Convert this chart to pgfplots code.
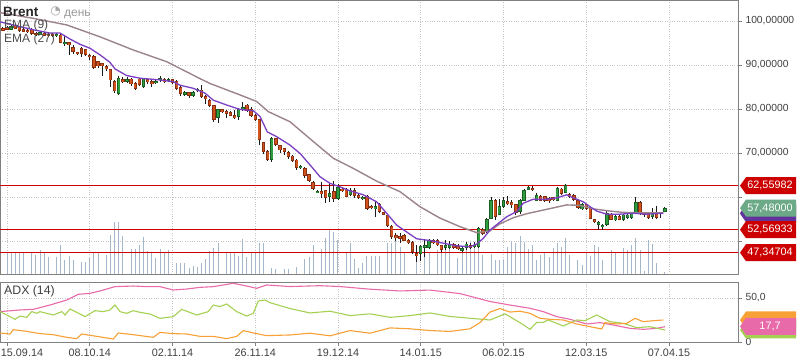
\documentclass[border=0pt]{standalone}
\usepackage{pgfplots}
\pgfplotsset{compat=1.18}
\usepackage{pgfplotstable}
\usepackage{fontspec}
\setmainfont{Liberation Sans}
\newfontfamily\symfont{DejaVu Sans}

\definecolor{framegray}{HTML}{808080}
\definecolor{gridgray}{HTML}{C4C4C4}
\definecolor{ticktext}{HTML}{404040}
\definecolor{downfill}{HTML}{D0541E}
\definecolor{downedge}{HTML}{8A2E10}
\definecolor{upfill}{HTML}{2E9E3E}
\definecolor{upedge}{HTML}{1B5E24}
\definecolor{wickc}{HTML}{1A1A1A}
\definecolor{volc}{HTML}{A5B8CA}
\definecolor{emaA}{HTML}{7B3FC4}
\definecolor{emaB}{HTML}{9C848C}
\definecolor{hred}{HTML}{D00000}
\definecolor{lblred}{HTML}{CC0000}
\definecolor{lblgreen}{HTML}{6BA987}
\definecolor{adxpink}{HTML}{E86AA8}
\definecolor{adxgreen}{HTML}{A6D052}
\definecolor{adxorange}{HTML}{F7A035}

\pgfplotsset{cdl/.style 2 args={draw=none, mark=none, forget plot,
  error bars/.cd, y dir=both, y explicit, error mark=none,
  error bar style={draw=#1, line width=#2}}}

\pgfplotstableread{
i o h l c
-1 98.3 98.6 97.7 97.95
0 98.5 98.8 97.9 98.1
2 98.9 99.3 98.1 98.4
3 98.6 98.9 97.6 97.9
4 98.0 98.3 97.4 97.7
5 97.9 98.3 97.2 97.6
6 98.0 98.3 96.9 97.2
7 97.2 97.5 96.6 96.9
9 97.2 97.5 96.5 96.8
10 97.0 97.3 96.4 96.7
11 97.0 97.3 96.3 96.6
13 96.8 97.1 95.0 95.2
15 95.0 95.3 92.3 94.6
16 94.0 94.5 92.5 93.0
17 92.8 93.0 92.3 92.55
18 93.8 94.0 91.9 92.7
19 93.4 93.7 92.1 92.5
20 92.2 92.5 91.1 91.9
21 92.0 92.3 89.1 89.4
22 90.8 91.0 89.4 89.8
23 90.3 90.5 87.4 89.8
24 89.6 89.9 88.7 89.1
25 88.9 89.2 85.1 86.6
26 86.2 86.5 83.6 84.1
28 86.6 87.3 85.8 86.2
30 86.8 87.1 85.3 85.7
31 85.8 86.1 84.3 84.7
32 86.8 87.1 85.2 85.5
34 86.6 86.9 85.7 86.2
35 86.2 86.5 85.0 85.7
38 86.7 87.0 85.9 86.2
40 86.6 86.9 85.7 86.0
41 86.2 86.5 84.3 84.7
42 84.9 85.4 83.0 83.6
44 83.7 83.9 82.4 83.1
47 84.3 85.4 82.5 82.8
48 82.8 83.1 81.2 82.3
49 81.9 82.2 80.5 80.8
50 80.7 80.9 77.1 77.6
52 79.8 80.1 79.1 79.4
53 79.5 79.8 78.0 79.0
54 79.2 79.5 78.3 78.6
55 78.4 79.7 77.7 78.0
58 80.9 81.2 79.3 79.6
59 79.8 80.4 78.2 78.5
60 78.5 78.8 77.2 77.7
61 77.5 77.8 71.9 73.1
62 72.3 72.6 69.8 70.3
63 70.3 70.6 68.1 68.6
65 73.2 73.5 71.7 72.0
66 71.6 71.9 70.0 70.7
67 70.9 71.1 69.6 70.3
68 70.1 70.4 68.6 69.3
69 69.3 69.6 68.0 68.4
70 68.4 68.7 66.2 66.7
72 66.5 66.8 64.4 64.9
73 65.0 65.3 63.3 63.7
74 63.3 63.6 61.5 62.0
76 61.2 63.3 59.7 60.8
77 61.4 61.7 58.6 59.9
79 61.2 63.6 58.9 59.7
81 61.8 62.3 61.1 61.5
82 61.7 62.0 59.9 60.2
84 61.4 62.0 59.8 60.4
85 60.4 60.7 59.5 59.9
87 60.2 60.5 57.0 57.4
88 57.9 58.2 57.2 57.7
90 58.4 58.7 56.4 56.8
91 56.4 56.7 55.8 56.1
92 55.9 56.2 53.1 53.5
93 53.3 53.6 50.5 51.0
94 51.2 51.8 49.9 50.8
95 51.1 51.9 49.6 50.6
96 51.2 51.6 49.9 50.2
97 50.1 50.4 49.3 49.6
98 49.6 49.9 47.1 47.6
99 47.2 49.1 45.3 46.6
103 50.1 50.4 49.3 49.6
104 50.1 50.4 48.8 49.1
105 48.9 49.2 47.6 48.1
108 49.1 49.5 48.2 48.6
109 48.7 49.3 47.9 48.3
112 48.9 49.5 48.2 48.6
115 52.6 52.9 51.3 51.7
118 59.2 59.5 54.7 55.5
121 58.9 60.2 58.1 58.5
122 58.8 59.4 57.4 58.2
123 58.2 58.5 55.8 56.4
127 62.0 62.4 61.3 61.6
129 60.1 60.4 59.0 59.3
130 60.0 60.3 58.9 59.3
131 59.7 60.0 58.7 59.1
132 59.8 60.1 59.2 59.5
134 61.8 62.1 60.5 60.8
136 60.5 60.8 59.8 60.1
137 60.3 60.6 59.2 59.5
138 59.1 59.4 57.2 57.6
140 58.2 58.5 57.1 57.4
141 57.4 57.7 54.9 55.2
142 54.8 55.1 54.2 54.5
146 56.1 56.4 54.7 55.0
148 55.5 55.8 54.7 55.0
153 58.8 59.1 56.0 56.3
154 56.4 56.7 55.5 56.1
155 56.3 56.6 54.9 55.3
157 56.5 58.0 55.1 55.4
158 56.4 56.7 55.2 56.2
}\downc

\pgfplotstableread{
i o h l c
1 98.1 99.1 97.9 98.8
8 97.0 97.6 96.8 97.3
12 96.7 97.3 96.4 96.9
14 94.9 96.5 94.3 95.1
27 83.6 87.4 83.1 87.0
29 86.3 87.2 85.9 86.7
33 85.1 87.1 84.8 86.8
36 86.0 86.5 85.7 86.2
37 86.6 87.5 86.2 86.9
39 86.4 87.0 86.1 86.6
43 83.4 84.1 82.9 83.8
45 83.0 84.2 82.7 83.7
46 84.1 84.7 83.9 84.4
51 78.0 80.1 76.9 79.8
56 78.3 80.2 77.6 79.8
57 80.0 81.5 79.6 80.4
64 68.6 73.6 67.9 73.3
71 66.6 67.2 66.3 66.9
75 61.0 61.6 60.8 61.3
78 60.1 63.1 58.9 60.7
80 59.7 63.0 59.3 62.2
83 60.6 62.1 60.2 61.4
86 59.7 60.3 59.4 59.9
89 57.4 58.8 55.5 57.8
100 47.2 49.1 45.5 48.7
101 48.6 50.3 46.4 49.0
102 48.5 50.4 48.2 50.1
106 48.6 50.2 47.9 48.9
107 48.6 50.1 48.1 49.1
110 47.9 48.7 47.6 48.3
111 48.6 49.8 48.0 49.3
113 48.7 49.8 48.3 49.0
114 48.7 53.2 48.4 52.9
116 52.1 55.2 51.8 54.9
117 55.2 60.1 54.9 59.2
119 56.1 59.5 55.8 57.9
120 57.9 59.9 57.5 59.1
124 56.7 59.5 56.2 59.2
125 59.3 61.8 59.0 61.4
126 61.8 62.6 61.5 62.2
128 59.3 60.8 59.0 60.3
133 59.3 62.3 59.0 62.0
135 61.1 63.0 60.8 62.5
139 57.3 58.6 57.0 58.2
143 53.8 54.5 52.6 54.2
144 53.3 53.9 52.5 53.6
145 53.8 56.9 53.5 56.3
147 54.8 55.8 54.5 55.5
149 55.0 56.2 54.6 55.9
150 55.4 56.3 55.1 55.9
151 55.4 56.6 55.1 56.3
152 56.5 59.9 56.2 58.8
156 55.5 57.6 55.1 56.3
159 56.8 57.8 56.5 57.4
}\upc

\pgfplotstableread{
i v
0 22
1 22
2 22
3 21
4 21
6 21
7 19
8 24
9 22
10 17
12 17
13 29
14 14
15 18
16 14
18 12
19 12
20 16
21 21
22 22
24 19
25 39
26 52
27 52
28 38
30 25
31 25
32 29
33 37
34 23
35 21
36 16
37 25
38 22
39 24
41 11
42 11
43 11
44 6
45 8
46 7
47 11
48 15
49 23
50 26
51 31
53 21
54 21
55 21
56 18
57 35
58 17
59 21
60 22
61 31
62 31
64 6
65 5
67 5
68 5
70 7
72 15
73 17
74 29
76 25
77 36
78 44
79 42
80 34
82 21
83 31
84 15
85 6
86 11
87 18
88 18
89 18
90 18
92 31
93 31
94 36
95 27
96 22
99 19
101 25
102 22
104 24
105 27
106 27
107 27
109 16
110 24
111 27
112 32
113 27
114 29
115 19
117 20
118 14
119 14
120 14
121 27
122 32
123 31
124 38
125 32
126 25
127 29
128 14
129 19
130 22
131 17
132 26
133 31
134 27
135 36
136 19
138 14
139 9
140 21
141 18
142 29
143 27
144 14
146 24
147 22
149 26
150 24
151 29
152 36
153 24
154 3
155 34
156 30
157 11
159 2
}\vol

\begin{document}
\begin{tikzpicture}[x=1pt,y=1pt]
\useasboundingbox (0,0) rectangle (798,363);
\fill[white] (0,0) rectangle (798,363);

% ---------------- main price panel ----------------
\begin{axis}[
  at={(0pt,89pt)}, anchor=south west,
  scale only axis, width=738pt, height=274pt,
  xmin=-1.692, xmax=176.68, ymin=42.5, ymax=104.77,
  axis line style={draw=framegray, line width=0.8pt},
  xtick={0,20,...,160}, xticklabels={},
  xtick pos=bottom, x tick style={draw=none},
  ytick={50,60,70,80,90,100},
  yticklabels={{},{},{70,00000},{80,00000},{90,00000},{100,00000}},
  ytick pos=right, yticklabel pos=right,
  tick align=outside, major tick length=4pt,
  y tick style={draw=framegray, line width=0.8pt},
  yticklabel style={font=\fontsize{10.3}{12}\selectfont, text=ticktext},
  grid=major, grid style={gridgray, dotted, line width=0.7pt},
  clip=true,
]
% volume
\addplot[ycomb, volc, line width=1pt, mark=none, forget plot]
  table[x=i, y expr={42.5+\thisrow{v}/4.4}] {\vol};
% horizontal levels
\addplot[draw=hred, line width=1.1pt, mark=none, forget plot] coordinates {(-2,62.55982) (177,62.55982)};
\addplot[draw=hred, line width=1.1pt, mark=none, forget plot] coordinates {(-2,52.56933) (177,52.56933)};
\addplot[draw=hred, line width=1.1pt, mark=none, forget plot] coordinates {(-2,47.34704) (177,47.34704)};
% wicks
\addplot[cdl={wickc}{0.9pt}]
  table[x=i, y expr={(\thisrow{h}+\thisrow{l})/2}, y error expr={(\thisrow{h}-\thisrow{l})/2}] {\downc};
\addplot[cdl={wickc}{0.9pt}]
  table[x=i, y expr={(\thisrow{h}+\thisrow{l})/2}, y error expr={(\thisrow{h}-\thisrow{l})/2}] {\upc};
% bodies: edge
\addplot[cdl={downedge}{3.4pt}]
  table[x=i, y expr={(\thisrow{o}+\thisrow{c})/2}, y error expr={abs(\thisrow{o}-\thisrow{c})/2+0.12}] {\downc};
\addplot[cdl={upedge}{3.4pt}]
  table[x=i, y expr={(\thisrow{o}+\thisrow{c})/2}, y error expr={abs(\thisrow{o}-\thisrow{c})/2+0.12}] {\upc};
% bodies: fill
\addplot[cdl={downfill}{1.9pt}]
  table[x=i, y expr={(\thisrow{o}+\thisrow{c})/2}, y error expr={abs(\thisrow{o}-\thisrow{c})/2-0.08}] {\downc};
\addplot[cdl={upfill}{1.9pt}]
  table[x=i, y expr={(\thisrow{o}+\thisrow{c})/2}, y error expr={abs(\thisrow{o}-\thisrow{c})/2-0.08}] {\upc};
% EMA 27
\addplot[emaB, line width=1.4pt, mark=none] coordinates {
(-1.69,101.9) (6.36,100.6) (14.43,99.1) (22.48,96.4) (30.53,93.4) (38.60,90.75)
(46.65,86.9) (49.06,85.8) (56.31,83.2) (60.35,81.7) (63.15,79.4) (68.40,77.1)
(74.03,72.6) (78.87,68.8) (83.70,66.5) (89.35,63.6) (95.0,61.2) (99.8,57.8)
(104.65,55.2) (109.49,53.25) (113.52,51.9) (116.74,52.3) (119.15,53.9) (122.37,55.3)
(125.61,56.2) (130.44,57.2) (135.28,58.2) (138.49,58.1) (141.70,57.3) (145.74,56.8)
(148.95,56.5) (152.99,56.4) (158.62,56.4)};
% EMA 9
\addplot[emaA, line width=1.3pt, mark=none] coordinates {
(-1.69,99.8) (6.36,98.0) (10.39,97.25) (12.81,97.25) (15.23,95.9) (17.64,94.7)
(20.06,93.8) (22.48,92.3) (24.89,90.6) (26.10,89.1) (28.93,87.6) (32.15,87.0)
(36.98,86.6) (40.19,86.2) (41.81,85.4) (45.03,84.7) (47.85,83.6) (49.86,82.0)
(53.10,80.9) (56.31,79.9) (59.53,79.6) (61.15,78.3) (62.91,74.8) (65.18,73.7)
(68.40,71.8) (70.82,69.9) (73.23,67.3) (75.65,64.6) (78.07,63.1) (80.48,62.3)
(82.90,61.4) (86.12,60.5) (89.35,58.9) (91.77,56.3) (94.19,53.6) (96.99,51.8)
(99.02,50.5) (102.24,50.1) (105.45,49.5) (108.69,48.9) (111.90,48.7) (113.52,49.3)
(115.12,50.6) (116.74,52.5) (119.15,54.3) (120.77,55.5) (123.19,56.7) (124.79,58.6)
(127.20,59.5) (130.44,59.5) (132.86,59.8) (135.28,60.5) (136.87,59.8) (139.29,58.9)
(140.91,57.8) (142.53,56.8) (144.94,56.1) (148.16,56.1) (151.37,56.3) (154.61,56.1)
(158.62,56.3)};
\end{axis}

% ---------------- ADX panel ----------------
\begin{axis}[
  at={(0pt,21pt)}, anchor=south west,
  scale only axis, width=738pt, height=60pt,
  xmin=-1.692, xmax=176.68, ymin=0, ymax=68.18,
  axis line style={draw=framegray, line width=0.8pt},
  xtick={0,20,...,160}, xticklabels={},
  xtick pos=bottom,
  ytick={0,50}, yticklabels={0,{50,0}},
  ytick pos=right, yticklabel pos=right,
  tick align=outside, major tick length=4pt,
  tick style={draw=framegray, line width=0.8pt},
  yticklabel style={font=\fontsize{10.3}{12}\selectfont, text=ticktext},
  grid=major, grid style={gridgray, dotted, line width=0.7pt},
  clip=true,
]
\addplot[adxpink, line width=1.1pt, mark=none] coordinates {
(-1.69,34.5) (3.14,36.4) (6.36,37.1) (10.39,42) (14.43,47.7) (17.23,54.2) (20.06,55.3)
(22.48,58) (26.10,62.9) (30.53,63.6) (33.76,62.9) (36.98,62.9) (40.19,59.1) (43.43,60.2)
(46.65,62.1) (49.86,62.9) (54.70,66.7) (57.93,63.6) (60.35,61) (62.77,64.8) (68.40,63)
(75.65,64) (80.48,63) (87.73,60) (95.0,58) (102.24,59) (109.49,55) (116.74,46)
(121.57,42) (126.40,38.3) (129.62,34.5) (132.86,28.8) (136.08,25.8) (140.11,20.5)
(143.32,22) (146.54,19.3) (150.57,15.5) (153.79,14.4) (157.03,15.5) (159.03,17.4)};
\addplot[adxgreen, line width=1.1pt, mark=none] coordinates {
(-1.69,34.5) (-0.07,30.7) (1.93,25.8) (3.14,29.5) (4.76,28) (5.97,34.5) (7.18,32.6)
(7.98,34.5) (11.19,30.7) (13.22,34.5) (14.02,30.7) (15.23,37.5) (16.85,33.7) (18.85,28.8)
(21.27,35.6) (23.27,34.5) (24.89,36.4) (26.10,42) (27.31,34.5) (28.93,32.6) (30.53,35.6)
(32.15,33.7) (34.56,31.8) (36.98,26.9) (40.19,28.8) (42.22,37.1) (45.85,30.7) (48.65,34.5)
(49.86,42) (51.48,40.2) (53.10,43.2) (55.52,34.5) (57.93,29.5) (59.53,32.6) (60.74,46.6)
(62.36,47.7) (63.56,44.7) (68.40,38) (73.23,33) (78.07,35) (82.90,30) (87.73,32)
(92.57,28) (97.40,30) (102.24,33) (107.07,29) (111.90,27) (116.74,25) (120.36,32)
(123.99,22) (126.40,14.4) (128.02,22.3) (129.62,22.3) (130.83,25) (134.45,18.2)
(137.69,25) (139.69,24.2) (142.53,30.7) (145.74,23.1) (148.95,21.2) (152.19,16.3)
(155.41,17.4) (159.03,13.6)};
\addplot[adxorange, line width=1.1pt, mark=none] coordinates {
(-1.69,10.2) (0.73,9.1) (1.52,14) (4.76,12.1) (7.98,9.5) (11.19,8.3) (14.43,5.3)
(16.85,3.8) (18.05,9.1) (21.68,6.4) (25.69,3.4) (26.90,10.2) (30.53,8.3) (35.36,5.3)
(36.98,10.9) (40.19,9.5) (43.43,9.1) (46.65,6.4) (49.86,6.4) (53.10,3.8) (55.52,6.4)
(57.11,12.9) (60.35,9.5) (62.77,7.2) (68.40,8) (73.23,10) (78.07,7) (82.90,13)
(87.73,10) (92.57,16) (97.40,15) (102.24,13) (107.07,12) (111.90,15) (114.32,22)
(116.74,34) (119.15,38) (121.57,34) (123.99,35) (126.40,32.6) (128.82,26.9) (131.24,25.8)
(134.45,25) (137.69,20.5) (140.91,17.4) (143.74,14.8) (144.53,22) (147.36,20.5)
(149.78,21.2) (151.79,26.9) (153.79,23.1) (156.21,24.2) (158.62,25)};
\end{axis}

% ---------------- texts ----------------
\node[anchor=base west, inner sep=0pt, font=\bfseries\fontsize{13.5}{15}\selectfont, text=black!85] at (3,346.3) {Brent};
\node[anchor=center, inner sep=0pt, font=\symfont\fontsize{12}{14}\selectfont, text=black!35] at (55.5,351.5) {◔};
\node[anchor=base west, inner sep=0pt, font=\fontsize{12}{14}\selectfont, text=black!40] at (64,346.3) {день};
\node[anchor=base west, inner sep=0pt, font=\fontsize{12}{14}\selectfont, text=black!70] at (4,334.5) {EMA (9)};
\node[anchor=base west, inner sep=0pt, font=\fontsize{12}{14}\selectfont, text=black!70] at (4,320.5) {EMA (27)};
\node[anchor=base west, inner sep=0pt, font=\fontsize{12.3}{14}\selectfont, text=black!75] at (4,68.5) {ADX (14)};

% x labels
\foreach \xx/\tt in {22/15.09.14, 89.75/08.10.14, 172.5/02.11.14, 255.25/26.11.14, 338/19.12.14, 420.75/14.01.15, 503.5/06.02.15, 586.25/12.03.15, 669/07.04.15}
  \node[anchor=base, inner sep=0pt, font=\fontsize{10.8}{12}\selectfont, text=ticktext] at (\xx,6) {\tt};

% right price labels
\newcommand{\pbox}[2]{%
  \fill[#2] (740,#1) -- (746,#1+8.5) -- (796,#1+8.5) -- (796,#1-8.5) -- (746,#1-8.5) -- cycle;}
\newcommand{\plabel}[3]{%
  \pbox{#1}{#2}
  \node[text=white, font=\fontsize{10.8}{12}\selectfont, inner sep=0pt] at (770,#1) {#3};}
\pbox{150.2}{emaB}
\pbox{149.4}{emaA!80!black}
\plabel{154.9}{lblgreen}{57,48000}
\plabel{177.3}{lblred}{62,55982}
\plabel{133.3}{lblred}{52,56933}
\plabel{110.3}{lblred}{47,34704}
% ADX labels
\pbox{43}{adxorange}
\pbox{33}{adxgreen}
\plabel{36.6}{adxpink}{17,7}
\end{tikzpicture}
\end{document}
